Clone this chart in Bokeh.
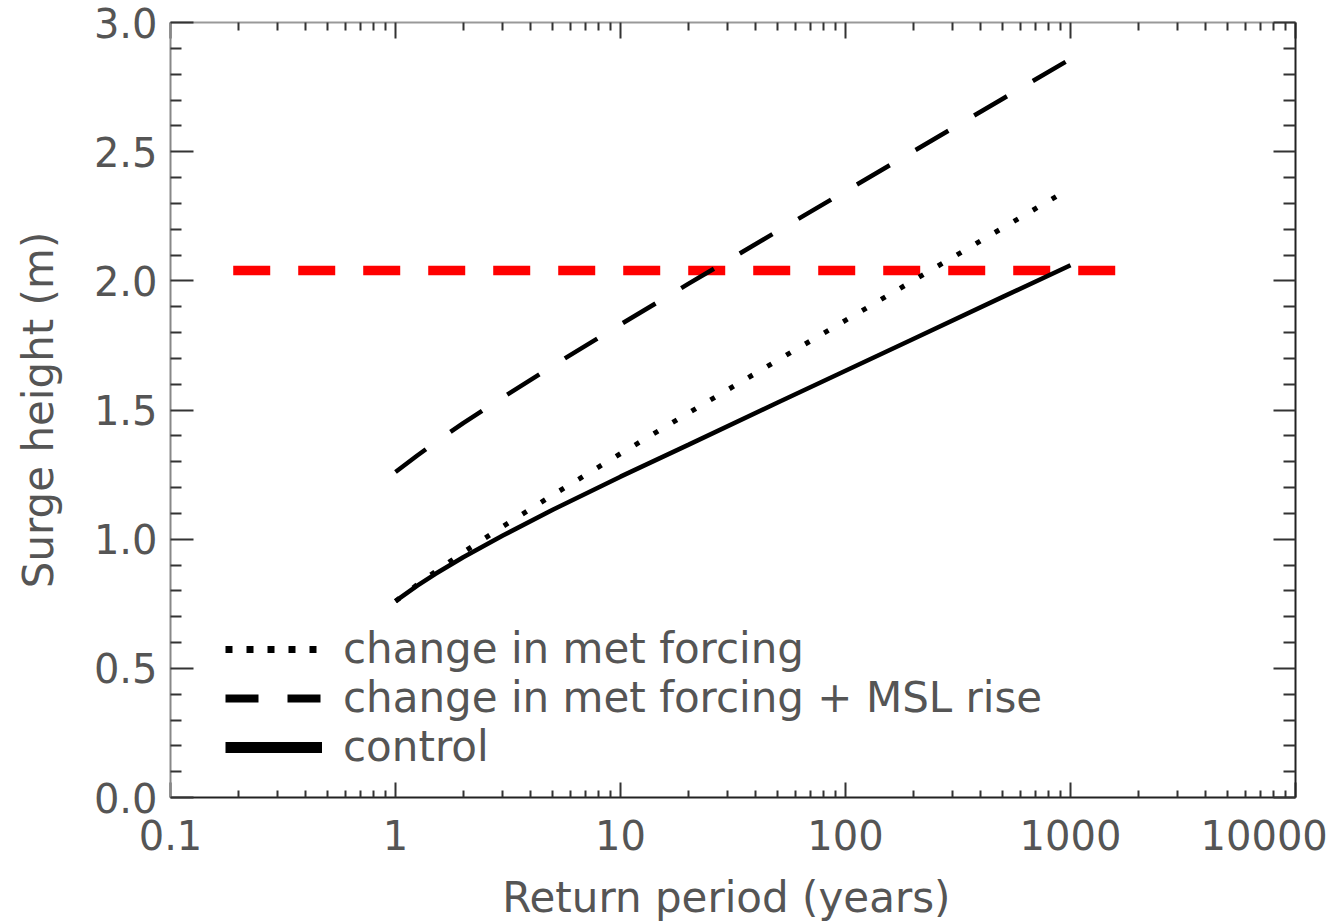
from bokeh.plotting import figure
from bokeh.models import (FixedTicker, LinearAxis, LogAxis, Legend, LegendItem)
from bokeh.embed import file_html
from bokeh.resources import INLINE

# ---- data ----
return_period = [1, 1.25, 1.5, 2, 3, 5, 10, 20, 50, 100, 200, 500, 1000]
control = [0.76, 0.82, 0.865, 0.93, 1.014, 1.114, 1.242, 1.365, 1.529, 1.652, 1.775, 1.938, 2.06]
met_forcing = [0.76, 0.824, 0.874, 0.949, 1.049, 1.171, 1.331, 1.488, 1.693, 1.847, 2.001, 2.205, 2.359]
met_forcing_msl = [1.26, 1.324, 1.374, 1.449, 1.549, 1.671, 1.831, 1.988, 2.193, 2.347, 2.501, 2.705, 2.859]
threshold_x = [0.19, 1600]
threshold_y = [2.04, 2.04]

x_ticks = [0.1, 1, 10, 100, 1000, 10000]
x_tick_labels = ["0.1", "1", "10", "100", "1000", "10000"]
y_ticks = [0.0, 0.5, 1.0, 1.5, 2.0, 2.5, 3.0]
y_tick_labels = ["0.0", "0.5", "1.0", "1.5", "2.0", "2.5", "3.0"]
legend_labels = ["change in met forcing", "change in met forcing + MSL rise", "control"]
x_title = "Return period (years)"
y_title = "Surge height (m)"

FONT = "DejaVu Sans"
TXT = "#555555"
FS = "40px"
FS_T = "42px"
NBSP = "\u00a0"

x_minor = [m * d for d in x_ticks[:-1] for m in range(2, 10)]
y_minor = [round(i * 0.1, 1) for i in range(31) if i % 5 != 0]

p = figure(x_axis_type="log", x_range=(x_ticks[0], x_ticks[-1]), y_range=(y_ticks[0], y_ticks[-1]),
           frame_width=1125, frame_height=775,
           min_border_left=170, min_border_right=45, min_border_top=22, min_border_bottom=122,
           output_backend="svg", toolbar_location=None)
p.grid.visible = False
p.outline_line_color = None
p.background_fill_color = "white"
p.border_fill_color = "white"

# lines
p.line(threshold_x, threshold_y, line_color="red", line_width=9.3, line_dash="37 28", line_cap="butt")
p.line(return_period, control, line_color="black", line_width=4.5)
p.line(return_period, met_forcing, line_color="black", line_width=5, line_dash="5 17")
p.line(return_period, met_forcing_msl, line_color="black", line_width=4.5, line_dash="38 30")

# hidden copies used only for the (thicker) legend samples
leg_dot = p.line(return_period, met_forcing, line_color="black", line_width=7, line_dash="7 14", visible=False)
leg_dash = p.line(return_period, met_forcing_msl, line_color="black", line_width=8, line_dash="33 29", visible=False)
leg_solid = p.line(return_period, control, line_color="black", line_width=11, visible=False)

legend = Legend(items=[LegendItem(label=legend_labels[0], renderers=[leg_dot]),
                       LegendItem(label=legend_labels[1], renderers=[leg_dash]),
                       LegendItem(label=legend_labels[2], renderers=[leg_solid])],
                location=(55, 26), orientation="vertical",
                glyph_width=97, glyph_height=48, label_height=48, label_standoff=21,
                spacing=0, padding=0, margin=0,
                border_line_color=None, background_fill_alpha=0, inactive_fill_alpha=0,
                label_text_font=FONT, label_text_font_size=FS_T, label_text_color=TXT)
p.add_layout(legend)

# axes
x_ticker = FixedTicker(ticks=x_ticks, minor_ticks=x_minor)
y_ticker = FixedTicker(ticks=y_ticks, minor_ticks=y_minor)
x_over = {t: l for t, l in zip(x_ticks, x_tick_labels)}
# the last label sits shifted inward (as in the reference): pad with a no-break space
x_over[x_ticks[-1]] = x_tick_labels[-1] + NBSP
y_over = {t: l for t, l in zip(y_ticks, y_tick_labels)}

def style(ax, maj, mnr, col):
    ax.axis_line_color = col
    ax.axis_line_width = 2
    ax.major_tick_line_color = "#333333"
    ax.minor_tick_line_color = "#333333"
    ax.major_tick_line_width = 2
    ax.minor_tick_line_width = 2
    ax.major_tick_in = maj
    ax.major_tick_out = 0
    ax.minor_tick_in = mnr
    ax.minor_tick_out = 0
    ax.major_label_text_font = FONT
    ax.major_label_text_font_size = FS
    ax.major_label_text_color = TXT
    ax.axis_label_text_font = FONT
    ax.axis_label_text_font_size = FS_T
    ax.axis_label_text_color = TXT
    ax.axis_label_text_font_style = "normal"

xb = p.xaxis[0]
xb.ticker = x_ticker
xb.major_label_overrides = x_over
xb.axis_label = x_title + NBSP
style(xb, 15, 7, "#222222")
xb.major_label_standoff = 15
xb.axis_label_standoff = 11

yl = p.yaxis[0]
yl.ticker = y_ticker
yl.major_label_overrides = y_over
yl.axis_label = y_title
style(yl, 23, 11, "#888888")
yl.major_label_standoff = 13
yl.axis_label_standoff = 28

xt = LogAxis(ticker=x_ticker)
style(xt, 16, 8, "#999999")
xt.major_label_text_font_size = "1px"
xt.major_label_text_alpha = 0
xt.major_label_standoff = 0
p.add_layout(xt, "above")

yr = LinearAxis(ticker=y_ticker)
style(yr, 22, 12, "#222222")
yr.major_label_text_font_size = "1px"
yr.major_label_text_alpha = 0
yr.major_label_standoff = 0
p.add_layout(yr, "right")

open("out.html", "w").write(file_html(p, INLINE))
